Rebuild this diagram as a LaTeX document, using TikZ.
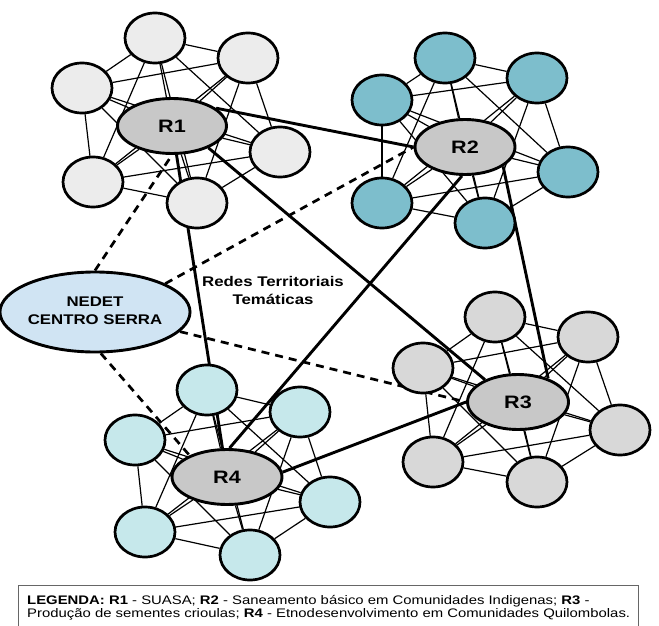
\documentclass[tikz,border=0pt]{standalone}
\usepackage{fontspec}
\setmainfont{Liberation Sans}
\usepackage{graphicx}
\usetikzlibrary{shapes.geometric, backgrounds, calc}

\definecolor{satgray}{RGB}{236,236,236}
\definecolor{satteal}{RGB}{125,190,204}
\definecolor{satsilver}{RGB}{216,216,216}
\definecolor{satcyan}{RGB}{198,232,235}
\definecolor{hubgray}{RGB}{200,200,200}
\definecolor{nedetblue}{RGB}{208,228,243}

% the reference is stretched sideways, so is its text
\newcommand{\widetxt}[1]{\scalebox{1.2}[1]{#1}}

\tikzset{
  hub/.style={ellipse, draw, line width=2.9pt, fill=hubgray, inner sep=0pt,
    minimum height=55pt, font=\fontsize{18}{18}\selectfont\bfseries},
  sat/.style={ellipse, draw, line width=2.7pt, inner sep=0pt,
    minimum width=60pt, minimum height=50pt},
  link/.style={line width=1.2pt},
  trunk/.style={line width=2.9pt},
  tie/.style={line width=2.7pt, dash pattern=on 8pt off 6pt},
}

\begin{document}
\begin{tikzpicture}[x=1pt, y=-1pt]
\useasboundingbox (0,0) rectangle (659,626);

% four thematic networks: hub and its six members
\foreach \net/\lab/\hx/\hy/\hw/\col/\sats in {
  r1/R1/172/126/109/satgray/{155/38,248/58,280/152,197/203,93/182,82/88},
  r2/R2/465/147/100/satteal/{445/58,537/78,568/172,485/223,382/203,382/100},
  r3/R3/518/402/101/satsilver/{495/317,588/337,620/430,537/482,433/462,423/368},
  r4/R4/227/477/110/satcyan/{207/390,300/412,330/502,250/555,145/532,135/440}}
{
  \node[hub, minimum width=\hw pt] (\net) at (\hx,\hy) {\widetxt{\lab}};
  \foreach \sx/\sy [count=\k] in \sats
    \node[sat, fill=\col] (\net-\k) at (\sx,\sy) {};
}

\node[ellipse, draw, line width=2.9pt, fill=nedetblue, inner sep=0pt,
  minimum width=153pt, minimum height=80pt,
  font=\fontsize{14}{18}\selectfont\bfseries] (nedet) at (95,312)
  {\widetxt{\begin{tabular}{@{}c@{}}NEDET\\CENTRO SERRA\end{tabular}}};

\node[font=\fontsize{14}{18}\selectfont\bfseries] (redes) at (273,292)
  {\widetxt{\begin{tabular}{@{}c@{}}Redes Territoriais\\Temáticas\end{tabular}}};

\begin{pgfonlayer}{background}
  % every member joined to its hub and to the others
  \foreach \net in {r1,r2,r3,r4} {
    \foreach \p in {1,...,6} {
      \draw[link] (\net) -- (\net-\p);
      \foreach \q in {1,...,6} {
        \ifnum\p<\q \draw[link] (\net-\p) -- (\net-\q); \fi
      }
    }
  }

  \draw[trunk] (r1.22) -- (r2.west);
  \draw[trunk] (r1.-31) -- (r3.146);
  \draw[trunk] (r1) -- (r4);
  \draw[trunk] (r2.-96) -- (r4.85);
  \draw[trunk] (r2.-27) -- (r3.38);
  \draw[trunk] (r3.west) -- (r4.5);

  \draw[tie] (nedet.north) -- (r1.south);
  \draw[tie] (nedet.22) -- (r2.west);
  \draw[tie] (nedet.-13) -- (r3.west);
  \draw[tie] (nedet.-82) -- (r4.150);
\end{pgfonlayer}

% legend
\draw[black!60, line width=0.9pt] (18,585) rectangle (638,632);
\node[anchor=north west, inner sep=0pt, font=\fontsize{12.4}{13}\selectfont] (legenda) at (27,595)
  {\widetxt{\begin{tabular}{@{}l@{}}
  \textbf{LEGENDA: R1} - SUASA; \textbf{R2} - Saneamento básico em Comunidades Indigenas; \textbf{R3} -\\
  Produção de sementes crioulas; \textbf{R4} - Etnodesenvolvimento em Comunidades Quilombolas.
  \end{tabular}}};
\end{tikzpicture}
\end{document}
